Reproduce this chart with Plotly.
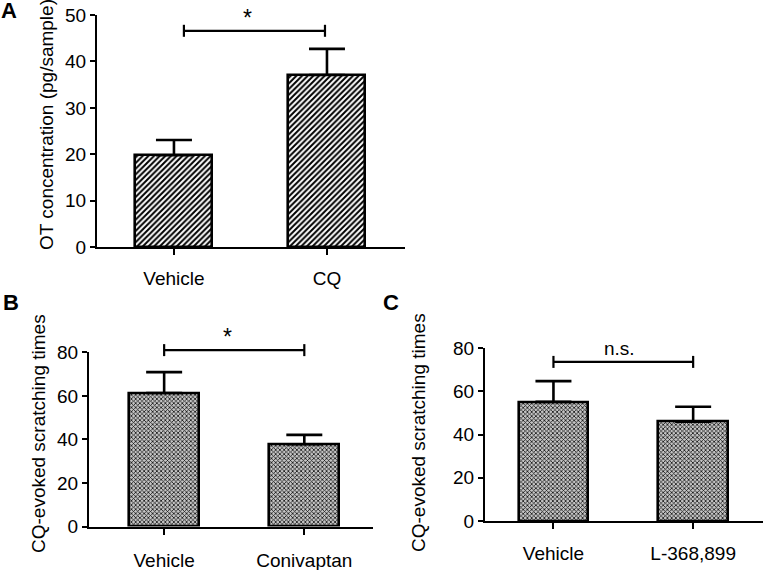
import plotly.graph_objects as go

W, H = 765, 570

# ---- data ----
a_categories = ["Vehicle", "CQ"]
a_values = [19.8, 37.1]
a_errors = [3.3, 5.6]
a_bracket_x = [0.065, 0.987]
a_bracket_y = 46.6
a_sig_x = 0.48
a_sig_text = "*"
a_yticks = [0, 10, 20, 30, 40, 50]

b_categories = ["Vehicle", "Conivaptan"]
b_values = [61.3, 37.8]
b_errors = [9.6, 4.3]
b_bracket_x = [0.0, 1.0]
b_bracket_y = 81.0
b_sig_x = 0.45
b_sig_text = "*"
b_yticks = [0, 20, 40, 60, 80]

c_categories = ["Vehicle", "L-368,899"]
c_values = [55.2, 46.0]
c_errors = [9.6, 6.9]
c_bracket_x = [0.0, 1.0]
c_bracket_y = 73.7
c_sig_x = 0.47
c_sig_text = "n.s."
c_yticks = [0, 20, 40, 60, 80]

FONT = "Arial, 'Liberation Sans', sans-serif"
FS = 19


def px(v):
    return v / W


def py(v):
    return 1 - v / H


fig = go.Figure()

panels = [
    dict(cats=a_categories, vals=a_values, errs=a_errors, bx=a_bracket_x, by=a_bracket_y,
         sx=a_sig_x, st=a_sig_text, ticks=a_yticks, yr=[0, 50], xr=[-0.503, 1.51],
         xd=[97, 405], yd=[247.3, 15], hatch=True, bar_w=0.503, sig_shift=-2, sig_size=23,
         xstand=7,
         title="OT concentration (pg/sample)", tx=46, ty=125, letter="A", lx=9, ly=11),
    dict(cats=b_categories, vals=b_values, errs=b_errors, bx=b_bracket_x, by=b_bracket_y,
         sx=b_sig_x, st=b_sig_text, ticks=b_yticks, yr=[0, 80], xr=[-0.536, 1.49],
         xd=[89, 373], yd=[526.5, 352.3], hatch=False, bar_w=0.5, sig_shift=-2, sig_size=23,
         xstand=10,
         title="CQ-evoked scratching times", tx=38, ty=434, letter="B", lx=11, ly=302),
    dict(cats=c_categories, vals=c_values, errs=c_errors, bx=c_bracket_x, by=c_bracket_y,
         sx=c_sig_x, st=c_sig_text, ticks=c_yticks, yr=[0, 80], xr=[-0.49, 1.5],
         xd=[485, 763], yd=[521, 348.3], hatch=False, bar_w=0.5, sig_shift=1, sig_size=FS,
         xstand=8,
         title="CQ-evoked scratching times", tx=418, ty=432, letter="C", lx=391, ly=302),
]

annotations = []
shapes = []
for i, p in enumerate(panels):
    n = "" if i == 0 else str(i + 1)
    xa, ya = "x" + n, "y" + n
    xpos = list(range(len(p["cats"])))
    if p["hatch"]:
        pattern = dict(shape="/", size=4, solidity=0.5, fgcolor="black",
                       bgcolor="white", fillmode="replace")
    else:
        pattern = dict(shape="x", size=3, solidity=0.45, fgcolor="#111",
                       bgcolor="#c4c4c4", fillmode="replace")
    fig.add_trace(go.Bar(
        x=xpos, y=p["vals"], width=p["bar_w"], xaxis=xa, yaxis=ya,
        marker=dict(color="white", line=dict(color="black", width=2.6), pattern=pattern),
        error_y=dict(type="data", array=p["errs"], arrayminus=[0] * len(p["errs"]),
                     symmetric=False, color="black", thickness=2.6, width=18),
        showlegend=False, hoverinfo="skip",
    ))
    # significance bracket (y expressed as a fraction of the y-axis domain)
    x0, x1 = p["bx"]
    frac = (p["by"] - p["yr"][0]) / (p["yr"][1] - p["yr"][0])
    yd = ya + " domain"
    line = dict(color="black", width=2.2)
    shapes.append(dict(type="line", xref=xa, yref=yd, x0=x0, x1=x1, y0=frac, y1=frac, line=line))
    for xe in (x0, x1):
        shapes.append(dict(type="line", xref=xa, yref=yd, x0=xe, x1=xe,
                           ysizemode="pixel", yanchor=frac, y0=-6, y1=6, line=line))
    annotations.append(dict(text=p["st"], x=p["sx"], y=frac, xref=xa, yref=yd,
                            showarrow=False, xanchor="center", yanchor="bottom",
                            yshift=p["sig_shift"],
                            font=dict(family=FONT, size=p["sig_size"], color="black")))
    axkey = "xaxis" + n
    aykey = "yaxis" + n
    fig.update_layout(**{
        axkey: dict(domain=[px(p["xd"][0]), px(p["xd"][1])], range=p["xr"],
                    tickvals=xpos, ticktext=p["cats"], showline=True, linecolor="black",
                    linewidth=2, ticks="outside", ticklen=6, tickwidth=2, tickcolor="black",
                    showgrid=False, zeroline=False, anchor=ya,
                    ticklabelstandoff=p["xstand"], ticklabeloverflow="allow",
                    automargin=False, fixedrange=True,
                    tickfont=dict(family=FONT, size=FS, color="black")),
        aykey: dict(domain=[py(p["yd"][0]), py(p["yd"][1])], range=p["yr"],
                    tickvals=p["ticks"], showline=True, linecolor="black", linewidth=2,
                    ticks="outside", ticklen=5, tickwidth=2, tickcolor="black",
                    showgrid=False, zeroline=False, anchor=xa, automargin=False,
                    ticklabeloverflow="allow", fixedrange=True,
                    tickfont=dict(family=FONT, size=FS, color="black")),
    })
    annotations.append(dict(text=p["title"], x=px(p["tx"]), y=py(p["ty"]),
                            xref="paper", yref="paper", showarrow=False, textangle=-90,
                            font=dict(family=FONT, size=FS, color="black"),
                            xanchor="center", yanchor="middle"))
    annotations.append(dict(text="<b>" + p["letter"] + "</b>", x=px(p["lx"]), y=py(p["ly"]),
                            xref="paper", yref="paper", showarrow=False,
                            font=dict(family=FONT, size=22, color="black"),
                            xanchor="center", yanchor="middle"))

fig.update_layout(
    width=W, height=H, margin=dict(l=0, r=0, t=0, b=0, autoexpand=False),
    paper_bgcolor="white", plot_bgcolor="white",
    annotations=annotations, shapes=shapes, bargap=0,
)

# remove the browser's default 8px body margin so the figure fills the window
fig.write_html("out.html", config={"displayModeBar": False},
               post_script="document.body.style.margin='0';document.body.style.overflow='hidden';")
